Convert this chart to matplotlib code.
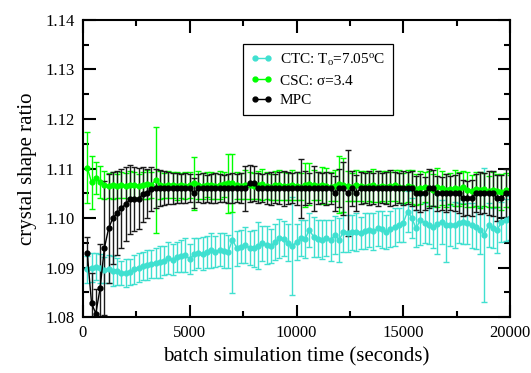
import numpy as np
import matplotlib
matplotlib.use("Agg")
import matplotlib.pyplot as plt
from matplotlib.ticker import MultipleLocator, FormatStrFormatter
from matplotlib.lines import Line2D

plt.rcParams['font.family'] = ['Liberation Serif', 'DejaVu Serif']
plt.rcParams['mathtext.fontset'] = 'custom'
plt.rcParams['mathtext.rm'] = 'Liberation Serif'
plt.rcParams['mathtext.it'] = 'Liberation Serif:italic'

# время (с)
time = list(range(200, 20001, 200))

# CTC
ctc = [1.0896, 1.0900, 1.0902, 1.0898, 1.0895, 1.0897, 1.0893, 1.0892, 1.0889, 1.0889,
       1.0891, 1.0896, 1.0900, 1.0903, 1.0905, 1.0907, 1.0909, 1.0911, 1.0914, 1.0919,
       1.0916, 1.0921, 1.0923, 1.0925, 1.0917, 1.0927, 1.0929, 1.0928, 1.0932, 1.0935,
       1.0932, 1.0936, 1.0934, 1.0932, 1.0956, 1.0939, 1.0942, 1.0945, 1.0940, 1.0939,
       1.0944, 1.0949, 1.0946, 1.0943, 1.0952, 1.0959, 1.0958, 1.0950, 1.0943, 1.0952,
       1.0959, 1.0957, 1.0976, 1.0962, 1.0958, 1.0956, 1.0960, 1.0955, 1.0966, 1.0956,
       1.0972, 1.0969, 1.0971, 1.0972, 1.0970, 1.0974, 1.0976, 1.0973, 1.0979, 1.0977,
       1.0972, 1.0978, 1.0982, 1.0986, 1.0990, 1.1013, 1.1000, 1.0979, 1.0996, 1.0990,
       1.0986, 1.0982, 1.0988, 1.0992, 1.0986, 1.0985, 1.0986, 1.0990, 1.0992, 1.0989,
       1.0985, 1.0981, 1.0975, 1.0966, 1.0986, 1.0980, 1.0976, 1.0992, 1.0996, 1.1000]
ctc_err = [0.0028, 0.0030, 0.0027, 0.0029, 0.0026, 0.0028, 0.0030, 0.0027, 0.0025, 0.0028,
           0.0027, 0.0029, 0.0030, 0.0028, 0.0031, 0.0029, 0.0030, 0.0032, 0.0029, 0.0033,
           0.0031, 0.0030, 0.0032, 0.0034, 0.0031, 0.0033, 0.0030, 0.0034, 0.0032, 0.0035,
           0.0031, 0.0033, 0.0036, 0.0034, 0.0108, 0.0035, 0.0033, 0.0036, 0.0034, 0.0037,
           0.0048, 0.0035, 0.0038, 0.0034, 0.0036, 0.0039, 0.0035, 0.0037, 0.0099, 0.0036,
           0.0036, 0.0038, 0.0035, 0.0040, 0.0037, 0.0039, 0.0036, 0.0041, 0.0038, 0.0044,
           0.0040, 0.0037, 0.0035, 0.0039, 0.0033, 0.0036, 0.0034, 0.0038, 0.0035, 0.0037,
           0.0034, 0.0036, 0.0039, 0.0035, 0.0038, 0.0042, 0.0040, 0.0037, 0.0050, 0.0041,
           0.0039, 0.0043, 0.0060, 0.0045, 0.0074, 0.0042, 0.0046, 0.0040, 0.0044, 0.0041,
           0.0045, 0.0043, 0.0047, 0.0135, 0.0044, 0.0041, 0.0046, 0.0040, 0.0043, 0.0045]

# CSC
csc = [1.1102, 1.1072, 1.1081, 1.1073, 1.1067, 1.1065, 1.1066, 1.1064, 1.1066, 1.1065,
       1.1067, 1.1066, 1.1064, 1.1066, 1.1068, 1.1066, 1.1077, 1.1066, 1.1065, 1.1067,
       1.1066, 1.1064, 1.1066, 1.1065, 1.1067, 1.1070, 1.1066, 1.1065, 1.1067, 1.1066,
       1.1064, 1.1066, 1.1068, 1.1070, 1.1071, 1.1066, 1.1065, 1.1067, 1.1066, 1.1064,
       1.1066, 1.1068, 1.1065, 1.1063, 1.1066, 1.1067, 1.1065, 1.1064, 1.1066, 1.1065,
       1.1063, 1.1067, 1.1069, 1.1066, 1.1064, 1.1066, 1.1065, 1.1063, 1.1065, 1.1068,
       1.1067, 1.1064, 1.1063, 1.1066, 1.1065, 1.1062, 1.1064, 1.1066, 1.1063, 1.1065,
       1.1062, 1.1064, 1.1066, 1.1063, 1.1061, 1.1064, 1.1062, 1.1058, 1.1061, 1.1063,
       1.1060, 1.1057, 1.1062, 1.1060, 1.1056, 1.1059, 1.1061, 1.1058, 1.1062, 1.1057,
       1.1055, 1.1059, 1.1056, 1.1058, 1.1054, 1.1057, 1.1055, 1.1053, 1.1056, 1.1054]
csc_err = [0.0071, 0.0053, 0.0033, 0.0032, 0.0028, 0.0025, 0.0027, 0.0024, 0.0026, 0.0025,
           0.0028, 0.0026, 0.0024, 0.0027, 0.0029, 0.0026, 0.0107, 0.0028, 0.0025, 0.0027,
           0.0026, 0.0028, 0.0025, 0.0027, 0.0026, 0.0053, 0.0028, 0.0026, 0.0025, 0.0027,
           0.0026, 0.0028, 0.0025, 0.0060, 0.0059, 0.0027, 0.0026, 0.0029, 0.0027, 0.0026,
           0.0028, 0.0031, 0.0027, 0.0026, 0.0029, 0.0030, 0.0028, 0.0027, 0.0030, 0.0028,
           0.0027, 0.0045, 0.0042, 0.0030, 0.0028, 0.0038, 0.0036, 0.0029, 0.0031, 0.0058,
           0.0055, 0.0030, 0.0028, 0.0031, 0.0030, 0.0032, 0.0029, 0.0033, 0.0031, 0.0030,
           0.0032, 0.0029, 0.0031, 0.0033, 0.0030, 0.0032, 0.0034, 0.0031, 0.0033, 0.0030,
           0.0035, 0.0032, 0.0040, 0.0034, 0.0033, 0.0031, 0.0036, 0.0034, 0.0033, 0.0035,
           0.0032, 0.0034, 0.0036, 0.0033, 0.0031, 0.0035, 0.0033, 0.0036, 0.0034, 0.0032]

# MPC
mpc = [1.0929, 1.0828, 1.0807, 1.0858, 1.0939, 1.0979, 1.1000, 1.1010, 1.1020, 1.1028,
       1.1038, 1.1039, 1.1039, 1.1048, 1.1050, 1.1059, 1.1060, 1.1060, 1.1060, 1.1060,
       1.1060, 1.1060, 1.1060, 1.1060, 1.1060, 1.1050, 1.1060, 1.1060, 1.1060, 1.1060,
       1.1060, 1.1060, 1.1060, 1.1060, 1.1060, 1.1060, 1.1060, 1.1060, 1.1070, 1.1070,
       1.1060, 1.1060, 1.1060, 1.1060, 1.1060, 1.1060, 1.1060, 1.1060, 1.1060, 1.1060,
       1.1060, 1.1060, 1.1060, 1.1060, 1.1060, 1.1060, 1.1060, 1.1060, 1.1050, 1.1060,
       1.1060, 1.1050, 1.1060, 1.1050, 1.1060, 1.1060, 1.1060, 1.1060, 1.1060, 1.1060,
       1.1060, 1.1060, 1.1060, 1.1060, 1.1060, 1.1060, 1.1060, 1.1050, 1.1050, 1.1050,
       1.1060, 1.1060, 1.1050, 1.1050, 1.1050, 1.1050, 1.1050, 1.1050, 1.1040, 1.1040,
       1.1040, 1.1050, 1.1050, 1.1050, 1.1050, 1.1050, 1.1040, 1.1040, 1.1050, 1.1050]
mpc_err = [0.0033, 0.0060, 0.0050, 0.0090, 0.0135, 0.0110, 0.0092, 0.0085, 0.0080, 0.0075,
           0.0070, 0.0065, 0.0062, 0.0056, 0.0050, 0.0045, 0.0040, 0.0036, 0.0034, 0.0032,
           0.0031, 0.0030, 0.0029, 0.0030, 0.0028, 0.0030, 0.0028, 0.0030, 0.0027, 0.0029,
           0.0030, 0.0028, 0.0027, 0.0029, 0.0030, 0.0028, 0.0030, 0.0046, 0.0037, 0.0035,
           0.0030, 0.0028, 0.0031, 0.0033, 0.0029, 0.0032, 0.0035, 0.0032, 0.0030, 0.0033,
           0.0060, 0.0034, 0.0030, 0.0045, 0.0032, 0.0030, 0.0033, 0.0031, 0.0035, 0.0038,
           0.0054, 0.0087, 0.0035, 0.0036, 0.0032, 0.0030, 0.0034, 0.0031, 0.0035, 0.0030,
           0.0032, 0.0036, 0.0033, 0.0030, 0.0034, 0.0032, 0.0035, 0.0034, 0.0038, 0.0033,
           0.0040, 0.0036, 0.0035, 0.0033, 0.0038, 0.0034, 0.0036, 0.0040, 0.0036, 0.0034,
           0.0036, 0.0038, 0.0042, 0.0040, 0.0044, 0.0045, 0.0046, 0.0047, 0.0048, 0.0050]

labels = [r'CTC: T$_{\mathrm{o}}$=7.05$^{\mathrm{o}}$C', 'CSC: σ=3.4', 'MPC']
colors = ['#40E0D0', '#00FF00', 'black']

fig = plt.figure(figsize=(5.31, 3.73), dpi=100)
ax = fig.add_axes([0.1563, 0.1501, 0.8042, 0.7963])

ax.errorbar(time, ctc, yerr=ctc_err, color=colors[0], marker='o', markersize=3.5,
            linewidth=1, elinewidth=1, capsize=2.2)
ax.errorbar(time, csc, yerr=csc_err, color=colors[1], marker='o', markersize=3.5,
            linewidth=1, elinewidth=1, capsize=2.2)
ax.errorbar(time, mpc, yerr=mpc_err, color=colors[2], ecolor='#1a1a1a', marker='o', markersize=3.5,
            linewidth=1, elinewidth=1, capsize=2.2)

ax.set_xlim(0, 20000)
ax.set_ylim(1.08, 1.14)
ax.xaxis.set_major_locator(MultipleLocator(5000))
ax.xaxis.set_minor_locator(MultipleLocator(2500))
ax.yaxis.set_major_locator(MultipleLocator(0.01))
ax.yaxis.set_minor_locator(MultipleLocator(0.005))
ax.yaxis.set_major_formatter(FormatStrFormatter('%.2f'))

ax.tick_params(which='both', direction='in', top=True, right=True, width=1.5, labelsize=12)
ax.tick_params(which='major', length=9, pad=6)
ax.tick_params(which='minor', length=4.5)
for s in ax.spines.values():
    s.set_linewidth(1.5)

ax.set_xlabel('batch simulation time (seconds)', fontsize=15, labelpad=4)
ax.set_ylabel('crystal shape ratio', fontsize=15, labelpad=6)

# легенда: только линия с точками, без усов
handles = [Line2D([], [], color=c, marker='o', markersize=3.5, linewidth=1) for c in colors]
leg = ax.legend(handles, labels, loc='upper left', bbox_to_anchor=(0.375, 0.919), borderaxespad=0,
                numpoints=2, handlelength=1.4, fontsize=11, fancybox=False,
                edgecolor='black', framealpha=1, labelspacing=0.4, handletextpad=0.5,
                borderpad=0.5)
leg.get_frame().set_linewidth(0.9)

fig.savefig('out.png', dpi=100)
